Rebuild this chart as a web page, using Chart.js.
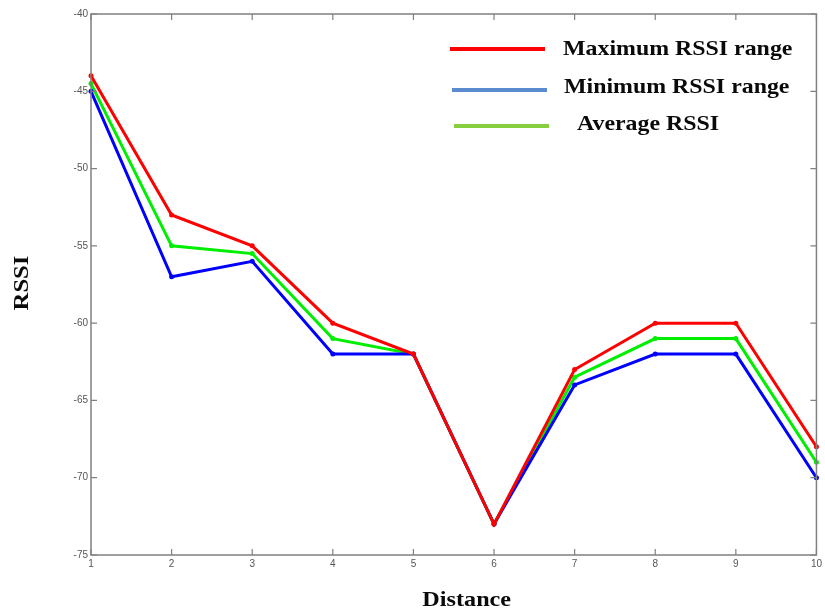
<!DOCTYPE html>
<html>
<head>
<meta charset="utf-8">
<script src="https://cdn.jsdelivr.net/npm/chart.js@4"></script>
<style>
  html, body { margin: 0; padding: 0; background: #ffffff; }
  #wrap { width: 825px; height: 615px; position: relative; }
</style>
</head>
<body>
<div id="wrap"><canvas id="c"></canvas></div>
<script>
// Distance steps on the horizontal axis
const distances = ['1', '2', '3', '4', '5', '6', '7', '8', '9', '10'];

// RSSI readings (dBm) at each distance
const maxRssi = [-44, -53, -55, -60, -62, -73, -63, -60, -60, -68];
const minRssi = [-45, -57, -56, -62, -62, -73, -64, -62, -62, -70];
const avgRssi = [-44.5, -55, -55.5, -61, -62, -73, -63.5, -61, -61, -69];

// Legend entries
const legendLabels = ['Maximum RSSI range', 'Minimum RSSI range', 'Average RSSI'];
const legendColors = ['#ff0000', '#5b8cd0', '#86cf3e'];

// Axis titles
const xTitle = 'Distance';
const yTitle = 'RSSI';

// Y axis range and tick step
const yMin = -75, yMax = -40, yStep = 5;

const series = [
  { label: legendLabels[0], data: maxRssi, color: '#ff0000' },
  { label: legendLabels[1], data: minRssi, color: '#0000ff' },
  { label: legendLabels[2], data: avgRssi, color: '#00ee00' }
];

const SERIF = 'bold 22px "Liberation Serif", "Times New Roman", serif';

// Draws bold serif text, slightly widened, centred or left-aligned at (x, y)
function wideText(ctx, text, x, y, align, rotate, stretch) {
  ctx.save();
  ctx.translate(x, y);
  if (rotate) ctx.rotate(-Math.PI / 2);
  ctx.scale(stretch, 1);
  ctx.font = SERIF;
  ctx.fillStyle = '#0a0a0a';
  ctx.textBaseline = 'middle';
  ctx.textAlign = align;
  ctx.fillText(text, 0, 0);
  ctx.restore();
}

// Box frame with inward tick marks on all four sides
const framePlugin = {
  id: 'frame',
  afterDatasetsDraw(chart) {
    const { ctx, chartArea: a, scales } = chart;
    ctx.save();
    ctx.strokeStyle = '#808080';
    ctx.lineWidth = 1.5;
    ctx.strokeRect(a.left, a.top, a.right - a.left, a.bottom - a.top);
    ctx.lineWidth = 1.2;
    const len = 6;
    ctx.beginPath();
    scales.x.ticks.forEach((t, i) => {
      const x = scales.x.getPixelForTick(i);
      ctx.moveTo(x, a.bottom); ctx.lineTo(x, a.bottom - len);
      ctx.moveTo(x, a.top); ctx.lineTo(x, a.top + len);
    });
    scales.y.ticks.forEach((t, i) => {
      const y = scales.y.getPixelForTick(i);
      ctx.moveTo(a.left, y); ctx.lineTo(a.left + len, y);
      ctx.moveTo(a.right, y); ctx.lineTo(a.right - len, y);
    });
    ctx.stroke();
    ctx.restore();
  }
};

// Axis titles and the legend inside the plot, top right
const textPlugin = {
  id: 'labels',
  afterDraw(chart) {
    const { ctx, chartArea: a } = chart;
    wideText(ctx, xTitle, (a.left + a.right) / 2 + 13, 600, 'center', false, 1.1);
    wideText(ctx, yTitle, 22.5, 283, 'center', true, 1.12);

    const rows = [
      { y: 49, x0: 450, tx: 563, ty: 49 },
      { y: 90, x0: 452, tx: 564, ty: 87 },
      { y: 126, x0: 454, tx: 577, ty: 124 }
    ];
    rows.forEach((r, i) => {
      ctx.save();
      ctx.strokeStyle = legendColors[i];
      ctx.lineWidth = 4;
      ctx.beginPath();
      ctx.moveTo(r.x0, r.y);
      ctx.lineTo(r.x0 + 95, r.y);
      ctx.stroke();
      ctx.restore();
      wideText(ctx, legendLabels[i], r.tx, r.ty, 'left', false, 1.085);
    });
  }
};

new Chart(document.getElementById('c'), {
  type: 'line',
  data: {
    labels: distances,
    datasets: series.map(s => ({
      label: s.label,
      data: s.data,
      borderColor: s.color,
      backgroundColor: s.color,
      borderWidth: 3,
      pointRadius: 2.5,
      pointBorderWidth: 0,
      pointBackgroundColor: s.color,
      tension: 0,
      fill: false
    }))
  },
  options: {
    responsive: true,
    maintainAspectRatio: false,
    animation: false,
    layout: { padding: { left: 0, right: 7, top: 14, bottom: 0 } },
    plugins: { legend: { display: false }, tooltip: { enabled: false } },
    scales: {
      x: {
        offset: false,
        grid: { display: false, drawTicks: false },
        border: { display: false },
        ticks: { color: '#555555', font: { family: 'Liberation Sans', size: 10 }, padding: 3, maxRotation: 0 },
        afterFit(scale) { scale.height = 60; }
      },
      y: {
        min: yMin, max: yMax,
        grid: { display: false, drawTicks: false },
        border: { display: false },
        ticks: { stepSize: yStep, color: '#555555', font: { family: 'Liberation Sans', size: 10 }, padding: 3 },
        afterFit(scale) { scale.width = 91; }
      }
    }
  },
  plugins: [framePlugin, textPlugin]
});
</script>
</body>
</html>
